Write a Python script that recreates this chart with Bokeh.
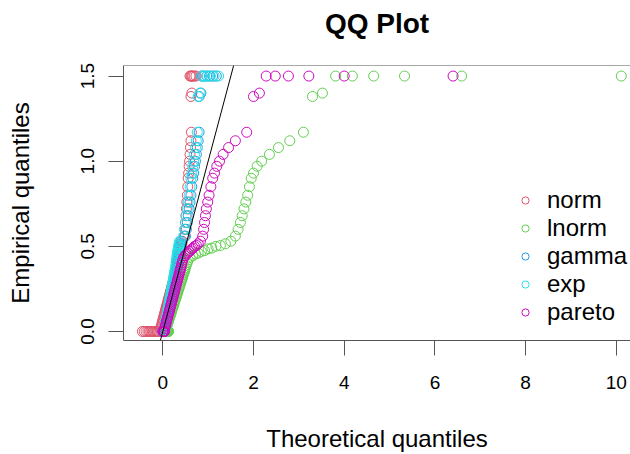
from bokeh.plotting import figure
from bokeh.models import Range1d, Slope, Span, Legend, LegendItem, FixedTicker, Title
from bokeh.embed import file_html
from bokeh.resources import INLINE

# ---- data ----
empirical = [0.0] * 12 + [
    0.015, 0.025, 0.035, 0.045, 0.055, 0.065, 0.075, 0.085, 0.095, 0.105,
    0.115, 0.125, 0.135, 0.145, 0.155, 0.165, 0.175, 0.185, 0.195, 0.205,
    0.215, 0.225, 0.235, 0.245, 0.255, 0.265, 0.275, 0.285, 0.295, 0.305,
    0.315, 0.325, 0.335, 0.345, 0.355, 0.365, 0.375, 0.39, 0.405, 0.42,
    0.435, 0.445, 0.455, 0.46, 0.47, 0.475, 0.485, 0.49, 0.5, 0.505, 0.515, 0.53,
    0.56, 0.6, 0.64, 0.68, 0.72, 0.76, 0.8, 0.85,
    0.9, 0.93, 0.97, 1.0, 1.04, 1.08, 1.12, 1.17,
    1.38, 1.4,
    1.5, 1.5, 1.5, 1.5, 1.5, 1.5]

norm_q = [
    -0.45, -0.41, -0.37, -0.33, -0.3, -0.27, -0.24, -0.21, -0.18, -0.15, -0.12, -0.09,
    -0.05, -0.04, -0.03, -0.02, -0.01, 0.0, 0.01, 0.02, 0.03, 0.04,
    0.05, 0.06, 0.07, 0.08, 0.09, 0.1, 0.11, 0.12, 0.13, 0.14,
    0.15, 0.16, 0.17, 0.18, 0.19, 0.2, 0.21, 0.22, 0.23, 0.24,
    0.25, 0.26, 0.27, 0.28, 0.29, 0.3, 0.31, 0.32, 0.34, 0.36,
    0.37, 0.375, 0.38, 0.385, 0.39, 0.395, 0.4, 0.405, 0.41, 0.415, 0.42, 0.43,
    0.48, 0.49, 0.5, 0.51, 0.52, 0.53, 0.54, 0.55,
    0.56, 0.57, 0.58, 0.59, 0.6, 0.61, 0.62, 0.63,
    0.62, 0.64,
    0.6, 0.62, 0.64, 0.66, 0.69, 0.73]

lnorm_q = [
    0.02, 0.03, 0.04, 0.05, 0.06, 0.07, 0.08, 0.09, 0.1, 0.11, 0.12, 0.13,
    0.07, 0.08, 0.095, 0.105, 0.12, 0.13, 0.14, 0.155, 0.165, 0.18,
    0.19, 0.2, 0.215, 0.225, 0.24, 0.25, 0.26, 0.275, 0.285, 0.3,
    0.31, 0.32, 0.335, 0.345, 0.36, 0.37, 0.38, 0.395, 0.405, 0.42,
    0.43, 0.44, 0.455, 0.465, 0.48, 0.49, 0.5, 0.52, 0.54, 0.56,
    0.6, 0.66, 0.72, 0.78, 0.85, 0.92, 1.0, 1.08, 1.17, 1.27, 1.38, 1.5,
    1.6, 1.66, 1.71, 1.75, 1.79, 1.83, 1.87, 1.91,
    1.95, 2.0, 2.08, 2.18, 2.35, 2.55, 2.8, 3.1,
    3.3, 3.52,
    3.81, 4.18, 4.65, 5.33, 6.59, 10.11]

gamma_q = [
    0.0, 0.002, 0.004, 0.006, 0.009, 0.012, 0.015, 0.018, 0.022, 0.026, 0.03, 0.034,
    0.038, 0.045, 0.052, 0.06, 0.067, 0.075, 0.082, 0.09, 0.097, 0.105,
    0.112, 0.12, 0.127, 0.135, 0.142, 0.15, 0.157, 0.165, 0.172, 0.18,
    0.187, 0.195, 0.202, 0.21, 0.217, 0.225, 0.232, 0.24, 0.247, 0.255,
    0.262, 0.27, 0.277, 0.285, 0.292, 0.3, 0.307, 0.315, 0.322, 0.33,
    0.34, 0.345, 0.35, 0.355, 0.36, 0.365, 0.37, 0.375, 0.38, 0.385, 0.39, 0.4,
    0.5, 0.52, 0.54, 0.56, 0.58, 0.6, 0.62, 0.64,
    0.66, 0.68, 0.7, 0.72, 0.74, 0.76, 0.78, 0.8,
    0.8, 0.84,
    0.86, 0.91, 0.97, 1.03, 1.1, 1.18]

exp_q = [
    0.0, 0.003, 0.006, 0.009, 0.012, 0.015, 0.018, 0.021, 0.025, 0.029, 0.033, 0.037,
    0.041, 0.047, 0.054, 0.06, 0.067, 0.074, 0.08, 0.087, 0.094, 0.1,
    0.107, 0.114, 0.12, 0.127, 0.134, 0.14, 0.147, 0.154, 0.16, 0.167,
    0.174, 0.18, 0.187, 0.194, 0.2, 0.207, 0.214, 0.22, 0.227, 0.234,
    0.24, 0.247, 0.254, 0.26, 0.267, 0.274, 0.28, 0.287, 0.294, 0.3,
    0.31, 0.315, 0.32, 0.325, 0.33, 0.335, 0.34, 0.345, 0.35, 0.355, 0.36, 0.37,
    0.46, 0.48, 0.5, 0.52, 0.54, 0.56, 0.58, 0.6,
    0.62, 0.64, 0.66, 0.68, 0.7, 0.72, 0.74, 0.76,
    0.78, 0.82,
    0.86, 0.92, 0.98, 1.05, 1.13, 1.23]

pareto_q = [
    0.002, 0.005, 0.008, 0.011, 0.014, 0.017, 0.02, 0.023, 0.026, 0.029, 0.032, 0.035,
    0.038, 0.048, 0.058, 0.068, 0.078, 0.088, 0.098, 0.108, 0.118, 0.128,
    0.138, 0.148, 0.158, 0.168, 0.178, 0.188, 0.198, 0.208, 0.218, 0.228,
    0.238, 0.248, 0.258, 0.268, 0.278, 0.288, 0.298, 0.308, 0.318, 0.328,
    0.338, 0.348, 0.358, 0.368, 0.378, 0.388, 0.398, 0.412, 0.426, 0.44,
    0.46, 0.49, 0.52, 0.55, 0.58, 0.61, 0.64, 0.67, 0.7, 0.74, 0.78, 0.83,
    0.88, 0.9, 0.92, 0.94, 0.96, 0.99, 1.02, 1.06,
    1.1, 1.14, 1.19, 1.25, 1.33, 1.45, 1.6, 1.85,
    2.0, 2.13,
    2.28, 2.48, 2.77, 3.22, 4.0, 6.4]

series_names = ["norm", "lnorm", "gamma", "exp", "pareto"]
series_values = [norm_q, lnorm_q, gamma_q, exp_q, pareto_q]
series_colors = ["#DF536B", "#61D04F", "#2297E6", "#28E2E5", "#CD0BBC"]

x_ticks = [0, 2, 4, 6, 8, 10]
y_ticks = [0.0, 0.5, 1.0, 1.5]
y_tick_labels = ["0.0", "0.5", "1.0", "1.5"]

FONT = "Liberation Sans"
AXIS_COL = "#555555"

p = figure(width=630, height=454, output_backend="svg", toolbar_location=None,
           x_range=Range1d(-0.867, 10.313), y_range=Range1d(-0.053, 1.562),
           min_border_left=123, min_border_right=0, min_border_top=65,
           min_border_bottom=114)
p.outline_line_color = None
p.grid.visible = False
p.background_fill_color = "white"
p.border_fill_color = "white"

# spacer between the frame and the main title
p.add_layout(Title(text=" ", text_font_size="2px", standoff=18), "above")
# main title
p.add_layout(Title(text="QQ Plot", text_font=FONT, text_font_size="28px",
                   text_font_style="bold", text_color="black", align="center",
                   offset=4, standoff=10), "above")

for ax in (p.xaxis, p.yaxis):
    ax.axis_line_color = AXIS_COL
    ax.major_tick_line_color = AXIS_COL
    ax.major_tick_in = 0
    ax.major_tick_out = 15
    ax.minor_tick_line_color = None
    ax.major_label_text_font = FONT
    ax.major_label_text_font_size = "19px"
    ax.major_label_text_color = "black"
    ax.axis_label_text_font = FONT
    ax.axis_label_text_font_size = "24px"
    ax.axis_label_text_font_style = "normal"
    ax.axis_label_text_color = "black"

p.xaxis.ticker = FixedTicker(ticks=x_ticks)
p.yaxis.ticker = FixedTicker(ticks=y_ticks)
p.yaxis.major_label_overrides = dict(zip(y_ticks, y_tick_labels))
p.yaxis.major_label_orientation = "parallel"
p.xaxis.axis_label = "Theoretical quantiles"
p.yaxis.axis_label = "Empirical quantiles"
p.xaxis.major_label_standoff = 20
p.yaxis.major_label_standoff = 14
p.xaxis.axis_label_standoff = 33
p.yaxis.axis_label_standoff = 45

# top edge of the box
p.add_layout(Span(location=1.562, dimension="width", line_color=AXIS_COL, line_width=1))

renderers = []
for name, vals, col in zip(series_names, series_values, series_colors):
    r = p.scatter(vals, empirical, marker="circle", size=10, fill_color=None,
                  line_color=col, line_width=1)
    renderers.append(r)

p.add_layout(Slope(gradient=1, y_intercept=0, line_color="black", line_width=1))

legend = Legend(items=[LegendItem(label=n, renderers=[r]) for n, r in zip(series_names, renderers)],
                location=(393, 14), border_line_color=None, background_fill_alpha=0,
                label_text_font=FONT, label_text_font_size="24px", label_text_color="black",
                glyph_width=18, glyph_height=18, label_height=26, label_standoff=13,
                spacing=-1, padding=0, margin=0)
p.add_layout(legend)

open("out.html", "w").write(file_html(p, INLINE))
